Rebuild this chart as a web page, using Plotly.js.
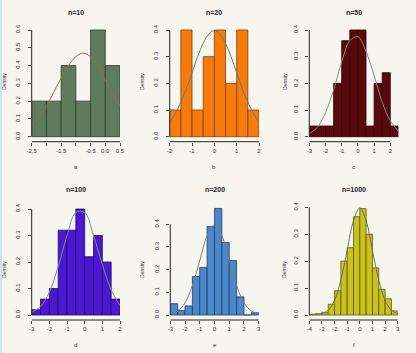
<!DOCTYPE html>
<html><head><meta charset="utf-8">
<script src="https://cdn.plot.ly/plotly-3.0.1.min.js"></script>
<style>
html,body{margin:0;padding:0;background:#f6f6ef;overflow:hidden;}
#chart{width:416px;height:353px;}
#edge{position:absolute;left:0;top:0;width:2px;height:353px;background:#cfe0ee;}
</style></head>
<body><div id="chart"></div><div id="edge"></div>
<script>
// ---- data ----
const titles = ["n=10","n=20","n=50","n=100","n=200","n=1000"];
const xLabels = ["a","b","c","d","e","f"];

const edgesA = [-2.5,-2,-1.5,-1,-0.5,0];
const densA  = [0.2,0.2,0.4,0.2,0.6,0.4];
const edgesB = [-2,-1.5,-1,-0.5,0,0.5,1,1.5];
const densB  = [0.1,0.4,0.1,0.3,0.4,0.2,0.4,0.1];
const edgesC = [-3,-2.5,-2,-1.5,-1,-0.5,0,0.5,1,1.5,2];
const densC  = [0.04,0.04,0.04,0.2,0.36,0.4,0.4,0.04,0.2,0.24,0.04];
const edgesD = [-3,-2.5,-2,-1.5,-1,-0.5,0,0.5,1,1.5];
const densD  = [0.02,0.06,0.10,0.32,0.32,0.40,0.22,0.30,0.20,0.06];
const edgesE = [-3,-2.5,-2,-1.5,-1,-0.5,0,0.5,1,1.5,2,2.5];
const densE  = [0.05,0.02,0.04,0.17,0.21,0.39,0.47,0.32,0.24,0.08,0,0.01];
const edgesF = [-4,-3.5,-3,-2.5,-2,-1.5,-1,-0.5,0,0.5,1,1.5,2,2.5];
const densF  = [0.003,0.005,0.01,0.04,0.09,0.20,0.25,0.365,0.395,0.30,0.175,0.095,0.06,0.015];

const curveAx = [-2.5,-2.25,-2,-1.75,-1.5,-1.25,-1,-0.75,-0.5,-0.25,0,0.25,0.5];
const curveAy = [0.065,0.11,0.17,0.25,0.33,0.40,0.45,0.47,0.45,0.40,0.32,0.24,0.17];
const curveBx = [-2,-1.75,-1.5,-1.25,-1,-0.75,-0.5,-0.25,0,0.25,0.5,0.75,1,1.25,1.5,1.75,2];
const curveBy = [0.055,0.087,0.13,0.18,0.24,0.30,0.35,0.385,0.398,0.385,0.35,0.30,0.24,0.18,0.13,0.087,0.055];
const curveCx = [-3,-2.5,-2,-1.5,-1,-0.5,0,0.5,1,1.5,2,2.5];
const curveCy = [0.012,0.035,0.09,0.175,0.28,0.36,0.375,0.32,0.23,0.13,0.06,0.02];
const curveDx = [-3,-2.5,-2,-1.5,-1,-0.5,0,0.5,1,1.5,2];
const curveDy = [0.01,0.032,0.086,0.183,0.30,0.387,0.387,0.30,0.19,0.095,0.035];
const curveEx = [-3,-2.5,-2,-1.5,-1,-0.5,0,0.5,1,1.5,2,2.5,3];
const curveEy = [0.005,0.018,0.054,0.13,0.24,0.35,0.398,0.35,0.24,0.13,0.054,0.018,0.005];
const curveFx = [-4,-3.5,-3,-2.5,-2,-1.5,-1,-0.5,0,0.5,1,1.5,2,2.5,3];
const curveFy = [0.0002,0.001,0.005,0.018,0.054,0.13,0.24,0.35,0.398,0.35,0.24,0.13,0.054,0.018,0.005];

const xTicksA = [-2.5,-2,-1.5,-1,-0.5,0,0.5];
const xTickTextA = ["-2.5","","-1.5","","-0.5","0.0","0.5"];
const xTicksB = [-2,-1,0,1,2];
const xTicksC = [-3,-2,-1,0,1,2];
const xTicksD = [-3,-2,-1,0,1,2];
const xTicksE = [-3,-2,-1,0,1,2,3];
const xTicksF = [-4,-3,-2,-1,0,1,2,3];
const yTicksA = [0,0.1,0.2,0.3,0.4,0.5,0.6];
const yTicks4 = [0,0.1,0.2,0.3,0.4];

// ---- styling / layout ----
const W=416,H=353;
const panels = [
 {edges:edgesA,dens:densA,cx:curveAx,cy:curveAy,xt:xTicksA,xtt:xTickTextA,yt:yTicksA,
  fill:"#5f7b5d",line:"#2c3b2b",curve:"#9a6a4e",px:[31.7,120],xr:[-2.5,0.5],row:0,ref:[0.6,30],lab:4},
 {edges:edgesB,dens:densB,cx:curveBx,cy:curveBy,xt:xTicksB,yt:yTicks4,
  fill:"#f67b0c",line:"#8a3c00",curve:"#6e7a6a",px:[169.7,259],xr:[-2,2],row:0,ref:[0.4,30],lab:142},
 {edges:edgesC,dens:densC,cx:curveCx,cy:curveCy,xt:xTicksC,yt:yTicks4,
  fill:"#5a0a0c",line:"#2a0000",curve:"#8a8a86",px:[309.3,398.4],xr:[-3,2.5],row:0,ref:[0.4,30],lab:285},
 {edges:edgesD,dens:densD,cx:curveDx,cy:curveDy,xt:xTicksD,yt:yTicks4,
  fill:"#4a18d2",line:"#1e0a66",curve:"#8a8a8a",px:[31.7,120],xr:[-3,2],row:1,ref:[0.4,209],lab:4},
 {edges:edgesE,dens:densE,cx:curveEx,cy:curveEy,xt:xTicksE,yt:yTicks4,
  fill:"#4a87cb",line:"#1f3d62",curve:"#7d7d7a",px:[170.3,258.7],xr:[-3,3],row:1,ref:[0.4,224.3],lab:142},
 {edges:edgesF,dens:densF,cx:curveFx,cy:curveFy,xt:xTicksF,yt:yTicks4,
  fill:"#c9c11c",line:"#5e5800",curve:"#6e6e60",px:[309.3,397.7],xr:[-4,3],row:1,ref:[0.4,207.3],lab:284}
];
const rows = [{top:26,bot:141.7,zero:136.7,title:13,xlab:167,ylab:82},
              {top:204,bot:320,zero:315,title:190,xlab:345,ylab:270}];

const data=[], layout={width:W,height:H,margin:{l:0,r:0,t:0,b:0},
  paper_bgcolor:"#f6f6ef",plot_bgcolor:"rgba(0,0,0,0)",showlegend:false,
  font:{family:"Liberation Sans, Arial, sans-serif",color:"#2a2a2a"},
  shapes:[],annotations:[]};
const tf={size:6,color:"#2a2a2a",family:"Liberation Sans, Arial, sans-serif"};

panels.forEach((p,i)=>{
  const n=i+1, xa="x"+(n===1?"":n), ya="y"+(n===1?"":n);
  const r=rows[p.row];
  const s=(r.zero-p.ref[1])/p.ref[0];
  const ylo=-(r.bot-r.zero)/s, yhi=(r.zero-r.top)/s;
  data.push({type:"bar",x:p.edges,y:p.dens,width:0.5,offset:0,xaxis:xa,yaxis:ya,
    marker:{color:p.fill,line:{color:p.line,width:0.8}},hoverinfo:"skip"});
  data.push({type:"scatter",mode:"lines",x:p.cx,y:p.cy,xaxis:xa,yaxis:ya,
    line:{color:p.curve,width:1,shape:"spline"},hoverinfo:"skip"});
  const xkey="xaxis"+(n===1?"":n), ykey="yaxis"+(n===1?"":n);
  layout[xkey]={domain:[p.px[0]/W,p.px[1]/W],range:p.xr,anchor:ya,showgrid:false,zeroline:false,
    showline:false,ticks:"outside",ticklen:3,tickwidth:0.8,tickcolor:"#222",
    tickvals:p.xt,ticktext:p.xtt||p.xt.map(String),tickfont:tf,fixedrange:true};
  layout[ykey]={domain:[1-r.bot/H,1-r.top/H],range:[ylo,yhi],anchor:xa,showgrid:false,zeroline:false,
    showline:false,ticks:"outside",ticklen:3,tickwidth:0.8,tickcolor:"#222",
    tickvals:p.yt,ticktext:p.yt.map(v=>v.toFixed(1)),tickangle:-90,tickfont:tf,
    ticklabelstandoff:5,fixedrange:true};
  // R-style axis lines spanning the tick range only
  layout.shapes.push({type:"line",xref:xa+" domain",x0:0,x1:0,yref:ya,
    y0:p.yt[0],y1:p.yt[p.yt.length-1],line:{color:"#222",width:1}});
  layout.shapes.push({type:"line",yref:ya+" domain",y0:0,y1:0,xref:xa,
    x0:p.xt[0],x1:p.xt[p.xt.length-1],line:{color:"#222",width:1}});
  const cx=(p.px[0]+p.px[1])/2/W;
  layout.annotations.push({text:"<b>"+titles[i]+"</b>",xref:"paper",yref:"paper",x:cx,y:1-r.title/H,
    showarrow:false,font:{size:7,color:"#222"},xanchor:"center",yanchor:"middle"});
  layout.annotations.push({text:xLabels[i],xref:"paper",yref:"paper",x:cx,y:1-r.xlab/H,
    showarrow:false,font:{size:6,color:"#333"},xanchor:"center",yanchor:"middle"});
  layout.annotations.push({text:"Density",xref:"paper",yref:"paper",x:p.lab/W,y:1-r.ylab/H,
    showarrow:false,font:{size:5,color:"#333"},textangle:-90,xanchor:"center",yanchor:"middle"});
});

Plotly.newPlot("chart",data,layout,{staticPlot:true,displayModeBar:false});
</script></body></html>
